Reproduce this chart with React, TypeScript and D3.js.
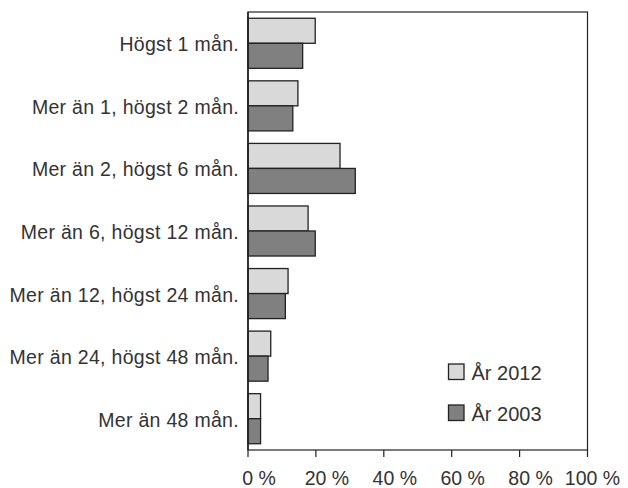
import React from "react";
import * as d3 from "d3";

const categories = [
  "Högst 1 mån.",
  "Mer än 1, högst 2 mån.",
  "Mer än 2, högst 6 mån.",
  "Mer än 6, högst 12 mån.",
  "Mer än 12, högst 24 mån.",
  "Mer än 24, högst 48 mån.",
  "Mer än 48 mån.",
];
const seriesNames = ["År 2012", "År 2003"];
const values2012 = [19.8, 14.7, 27.1, 17.7, 11.8, 6.7, 3.7];
const values2003 = [16.1, 13.2, 31.6, 19.8, 11.0, 5.9, 3.7];
const xTicks = [0, 20, 40, 60, 80, 100];
const colors = ["#d9d9d9", "#808080"];

const W = 628;
const H = 488;
const left = 248;
const right = 587.5;
const top = 12;
const bottom = 450;
const font = "'Liberation Sans', Arial, Helvetica, sans-serif";
const textColor = "#333333";

export default function App() {
  const x = d3.scaleLinear().domain([0, 100]).range([left, right]);
  const y = d3
    .scaleBand<string>()
    .domain(categories)
    .range([top, bottom])
    .paddingInner(0.2)
    .paddingOuter(0.1);
  const sub = d3
    .scaleBand<string>()
    .domain(seriesNames)
    .range([0, y.bandwidth()])
    .padding(0);
  const series = [values2012, values2003];

  return (
    <svg
      width={W}
      height={H}
      style={{ position: "absolute", left: 0, top: 0, background: "#fff" }}
      fontFamily={font}
    >
      {/* bars */}
      {categories.map((c, i) => (
        <g key={c} transform={`translate(0,${y(c)})`}>
          {seriesNames.map((s, j) => (
            <rect
              key={s}
              x={x(0)}
              y={sub(s)!}
              width={x(series[j][i]) - x(0)}
              height={sub.bandwidth()}
              fill={colors[j]}
              stroke="#222"
              strokeWidth={1.3}
            />
          ))}
        </g>
      ))}
      {/* frame */}
      <rect
        x={left}
        y={top}
        width={right - left}
        height={bottom - top}
        fill="none"
        stroke="#222"
        strokeWidth={1.2}
      />
      <line x1={left} x2={left} y1={top} y2={bottom} stroke="#222" strokeWidth={1.6} />
      {/* x ticks */}
      {xTicks.map((t, i) => (
        <g key={t}>
          <line x1={x(t)} x2={x(t)} y1={bottom} y2={bottom + 7} stroke="#222" strokeWidth={1.2} />
          <text
            x={x(t)}
            dx={i === xTicks.length - 1 ? 5 : 11}
            y={485}
            textAnchor="middle"
            fontSize={19.5}
            fill={textColor}
          >
            {`${t} %`}
          </text>
        </g>
      ))}
      {/* category labels */}
      {categories.map((c) => (
        <text
          key={c}
          x={239}
          y={y(c)! + y.bandwidth() / 2 + 8}
          textAnchor="end"
          fontSize={19.5}
          letterSpacing={0.3}
          fill={textColor}
        >
          {c}
        </text>
      ))}
      {/* legend */}
      {seriesNames.map((s, j) => (
        <g key={s} transform={`translate(448.5,${364 + j * 41})`}>
          <rect x={0} y={0} width={15.5} height={15.5} fill={colors[j]} stroke="#222" strokeWidth={1.3} />
          <text x={23} y={15.5} fontSize={20} fill={textColor}>
            {s}
          </text>
        </g>
      ))}
    </svg>
  );
}
